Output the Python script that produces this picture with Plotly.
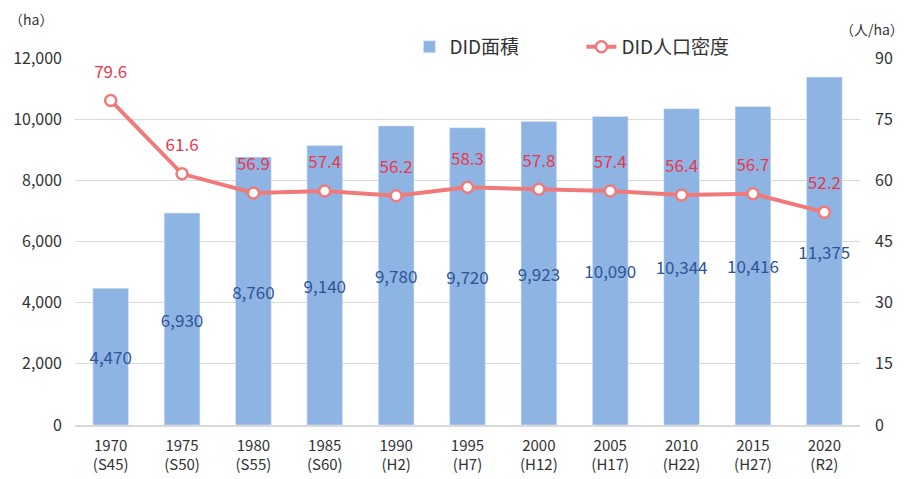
import plotly.graph_objects as go

years = ["1970<br>(S45)", "1975<br>(S50)", "1980<br>(S55)", "1985<br>(S60)", "1990<br>(H2)",
         "1995<br>(H7)", "2000<br>(H12)", "2005<br>(H17)", "2010<br>(H22)", "2015<br>(H27)", "2020<br>(R2)"]
area = [4470, 6930, 8760, 9140, 9780, 9720, 9923, 10090, 10344, 10416, 11375]
density = [79.6, 61.6, 56.9, 57.4, 56.2, 58.3, 57.8, 57.4, 56.4, 56.7, 52.2]

FONT = "Noto Sans CJK JP, Liberation Sans, sans-serif"
LINE_COLOR = "#F07A7A"

fig = go.Figure()
fig.add_trace(go.Bar(
    x=years, y=area, name="DID面積",
    marker=dict(color="#8EB4E3"),
    text=[f"{v:,}" for v in area], textposition="inside", insidetextanchor="middle",
    textfont=dict(color="#2F5597", size=17, family=FONT),
    textangle=0, cliponaxis=False,
))
fig.add_trace(go.Scatter(
    x=years, y=density, name="DID人口密度", yaxis="y2",
    mode="lines+markers",
    line=dict(color=LINE_COLOR, width=4),
    marker=dict(symbol="circle", size=11, color="white", line=dict(color=LINE_COLOR, width=2.5)),
    cliponaxis=False,
))
# value labels for the line (invisible larger markers to lift the text)
fig.add_trace(go.Scatter(
    x=years, y=density, yaxis="y2", showlegend=False, hoverinfo="skip",
    mode="markers+text",
    marker=dict(size=28, color="rgba(0,0,0,0)"),
    text=[f"{v:.1f}" for v in density], textposition="top center",
    textfont=dict(color="#E8384F", size=17, family=FONT),
    cliponaxis=False,
))

fig.update_layout(
    width=898, height=471,
    margin=dict(l=67, r=46, t=50, b=54, autoexpand=False),
    paper_bgcolor="white", plot_bgcolor="white",
    font=dict(family=FONT, color="#333333", size=14),
    bargap=0.5,
    uniformtext=dict(minsize=17, mode="show"),
    showlegend=True,
    legend=dict(orientation="h", x=0.426, xanchor="left", y=1.03, yanchor="middle",
                entrywidth=127, entrywidthmode="pixels",
                font=dict(size=19, color="#333333"), bgcolor="rgba(0,0,0,0)"),
    xaxis=dict(range=[-0.5, 10.5], showgrid=False, showline=True, linecolor="#D9D9D9", linewidth=1.5,
               tickfont=dict(size=15, color="#333333"), ticks="", ticklabelstandoff=6),
    yaxis=dict(range=[0, 12000], dtick=2000, tickformat=",d", showgrid=True,
               gridcolor="#D9D9D9", zeroline=False, tickfont=dict(size=16, color="#333333"),
               ticks="", ticklabelstandoff=12),
    yaxis2=dict(range=[0, 90], dtick=15, overlaying="y", side="right", showgrid=False,
                zeroline=False, tickfont=dict(size=16, color="#333333"), ticks="",
                ticklabelstandoff=14),
    annotations=[
        dict(text="（ha）", xref="paper", yref="paper", x=-0.056, y=1.106, xanchor="center",
             yanchor="middle", showarrow=False, font=dict(size=14, color="#333333")),
        dict(text="（人/ha）", xref="paper", yref="paper", x=1.015, y=1.079, xanchor="center",
             yanchor="middle", showarrow=False, font=dict(size=14, color="#333333")),
    ],
)

fig.write_html("out.html")
